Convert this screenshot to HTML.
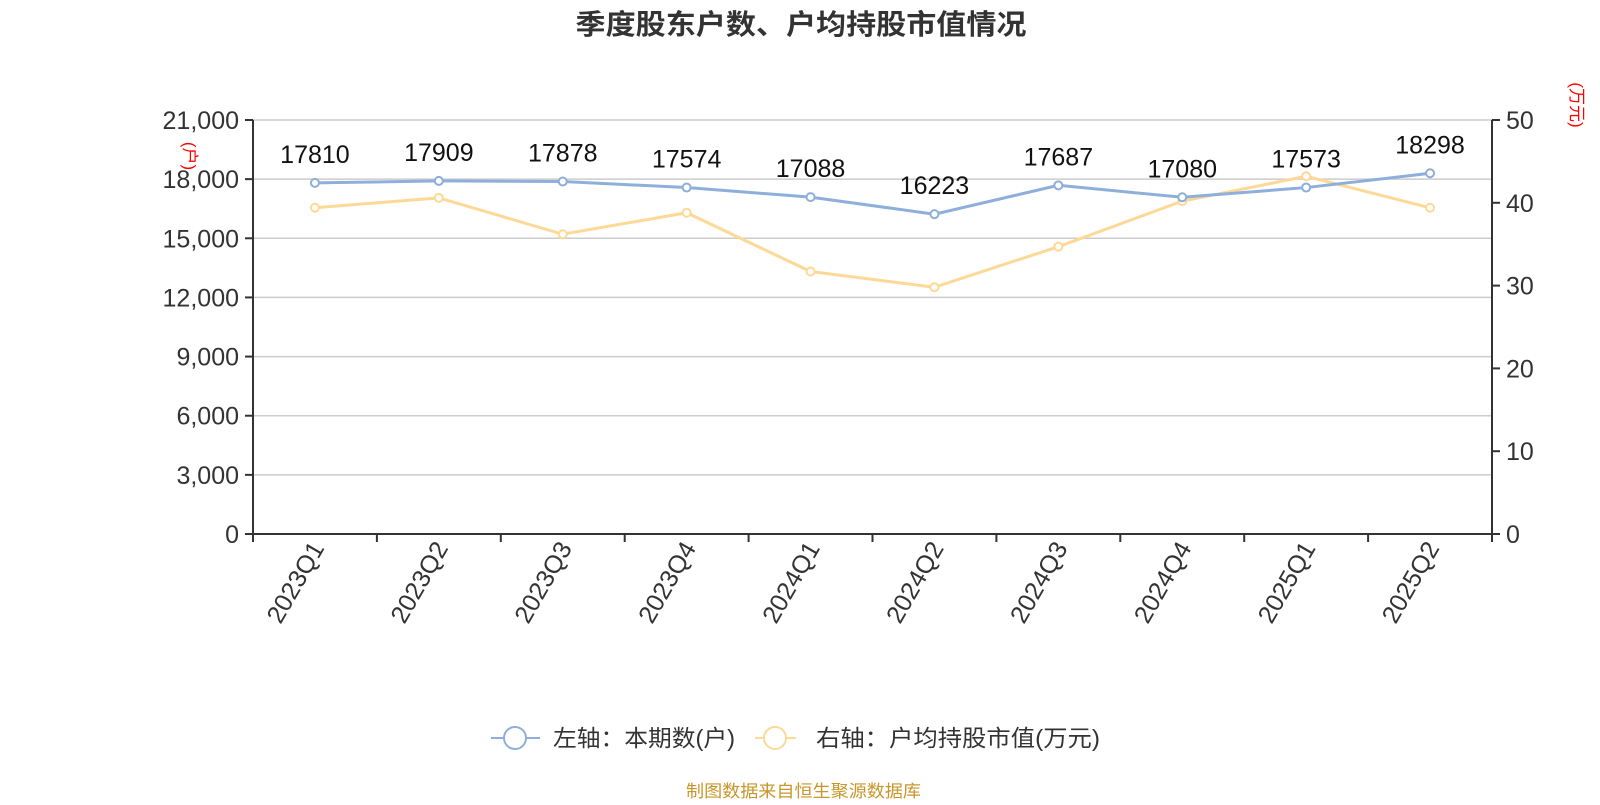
<!DOCTYPE html>
<html><head><meta charset="utf-8"><style>
body{margin:0;background:#fff;}
svg text{font-family:"Liberation Sans","Noto Sans CJK SC",sans-serif;}
</style></head><body>
<svg id="c" width="1600" height="800" xmlns="http://www.w3.org/2000/svg">
<text x="801" y="34" text-anchor="middle" font-size="28" font-weight="bold" fill="#333" textLength="451" lengthAdjust="spacingAndGlyphs">季度股东户数、户均持股市值情况</text>
<g id="grid"></g><g id="axes"></g><g id="series"></g>
<text transform="translate(184,156) rotate(90)" text-anchor="middle" font-size="17" fill="#f00">(户)</text>
<text transform="translate(1571,105) rotate(90)" text-anchor="middle" font-size="17" fill="#f00">(万元)</text>
<g>
<g>
<line x1="491" y1="738" x2="540" y2="738" stroke="#8eaedb" stroke-width="2"/>
<circle cx="515" cy="738" r="11" fill="#fff" stroke="#8eaedb" stroke-width="2"/>
<text x="553" y="746" font-size="23" fill="#333" textLength="182" lengthAdjust="spacingAndGlyphs">左轴：本期数(户)</text></g>
<g>
<line x1="755" y1="738" x2="796" y2="738" stroke="#fdd896" stroke-width="2"/>
<circle cx="775" cy="738" r="11" fill="#fff" stroke="#fdd896" stroke-width="2"/>
<text x="816" y="746" font-size="23" fill="#333" textLength="284" lengthAdjust="spacingAndGlyphs">右轴：户均持股市值(万元)</text></g>
</g>
<text x="686" y="797" font-size="17" fill="#c8962a" textLength="235" lengthAdjust="spacingAndGlyphs">制图数据来自恒生聚源数据库</text>
</svg>
<script>
const categories=["2023Q1","2023Q2","2023Q3","2023Q4","2024Q1","2024Q2","2024Q3","2024Q4","2025Q1","2025Q2"];
const households=[17810,17909,17878,17574,17088,16223,17687,17080,17573,18298];
const avgValue=[39.4,40.6,36.2,38.8,31.7,29.8,34.7,40.2,43.2,39.4];
const leftTicks=[0,3000,6000,9000,12000,15000,18000,21000];
const rightTicks=[0,10,20,30,40,50];
const NS="http://www.w3.org/2000/svg";
const X0=253,X1=1492,Y0=534,Y1=120;
const bw=(X1-X0)/categories.length;
const xs=i=>X0+bw*(i+0.5);
const yl=v=>Y0-(v/21000)*(Y0-Y1);
const yr=v=>Y0-(v/50)*(Y0-Y1);
function mk(p,t,a,txt){const e=document.createElementNS(NS,t);for(const k in a)e.setAttribute(k,a[k]);if(txt!=null)e.textContent=txt;document.getElementById(p).appendChild(e);return e;}
leftTicks.forEach(v=>{
 if(v>0){const g=mk('grid','line',{x1:X0,x2:X1,y1:yl(v),y2:yl(v),stroke:'#ccc','stroke-width':1.5});
 
 }
 mk('axes','line',{x1:X0-8,x2:X0,y1:yl(v),y2:yl(v),stroke:'#333','stroke-width':2});
 const t=mk('axes','text',{x:X0-14,y:yl(v)+9,'text-anchor':'end','font-size':25,fill:'#333'},v.toLocaleString('en-US'));
 
 
});
rightTicks.forEach(v=>{
 mk('axes','line',{x1:X1,x2:X1+8,y1:yr(v),y2:yr(v),stroke:'#333','stroke-width':2});
 const t=mk('axes','text',{x:X1+14,y:yr(v)+9,'font-size':25,fill:'#333'},String(v));
 
 
});
mk('axes','line',{x1:X0,x2:X0,y1:Y1,y2:Y0,stroke:'#333','stroke-width':2});
mk('axes','line',{x1:X1,x2:X1,y1:Y1,y2:Y0+8,stroke:'#333','stroke-width':2});
mk('axes','line',{x1:X0,x2:X1,y1:Y0,y2:Y0,stroke:'#333','stroke-width':2});
for(let i=0;i<=categories.length;i++)mk('axes','line',{x1:X0+bw*i,x2:X0+bw*i,y1:Y0,y2:Y0+8,stroke:'#333','stroke-width':2});
categories.forEach((c,i)=>{
 const t=mk('axes','text',{transform:`translate(${xs(i)+10},${Y0+14}) rotate(-60)`,'text-anchor':'end','font-size':25,fill:'#333'},c);
 
 
});
function line(vals,f,col,name){
 const p=mk('series','polyline',{points:vals.map((v,i)=>xs(i)+','+f(v)).join(' '),fill:'none',stroke:col,'stroke-width':3});
 
 
 vals.forEach((v,i)=>{const c=mk('series','circle',{cx:xs(i),cy:f(v),r:4,fill:'#fff',stroke:col,'stroke-width':2});
 
 });
}
line(avgValue,yr,'#fdd896','avg-value');
line(households,yl,'#8eaedb','households');
households.forEach((v,i)=>{
 const t=mk('series','text',{x:xs(i),y:yl(v)-20,'text-anchor':'middle','font-size':25,fill:'#111'},String(v));
 
 
});
</script>
</body></html>
